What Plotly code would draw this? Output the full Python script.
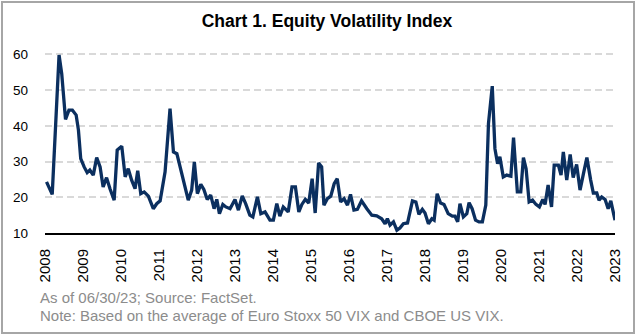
import plotly.graph_objects as go

# Equity volatility index (average of Euro Stoxx 50 VIX and CBOE US VIX)
years = [
    2008.04, 2008.19, 2008.37, 2008.44, 2008.54, 2008.63, 2008.72, 2008.82, 2008.88, 2008.94,
    2009.03, 2009.11, 2009.18, 2009.27, 2009.36, 2009.45, 2009.53, 2009.62, 2009.71, 2009.82,
    2009.90, 2010.02, 2010.11, 2010.19, 2010.28, 2010.37, 2010.44, 2010.52, 2010.61, 2010.72,
    2010.85, 2010.94, 2011.03, 2011.16, 2011.29, 2011.38, 2011.47, 2011.60, 2011.68, 2011.77,
    2011.86, 2011.93, 2012.01, 2012.10, 2012.18, 2012.27, 2012.36, 2012.45, 2012.52, 2012.59,
    2012.68, 2012.76, 2012.87, 2013.00, 2013.09, 2013.19, 2013.28, 2013.39, 2013.47, 2013.59,
    2013.68, 2013.79, 2013.92, 2014.01, 2014.10, 2014.18, 2014.27, 2014.40, 2014.50, 2014.59,
    2014.68, 2014.76, 2014.85, 2014.94, 2015.03, 2015.11, 2015.20, 2015.28, 2015.34, 2015.43,
    2015.52, 2015.61, 2015.69, 2015.78, 2015.87, 2015.96, 2016.04, 2016.13, 2016.22, 2016.33,
    2016.47, 2016.60, 2016.73, 2016.86, 2016.95, 2017.01, 2017.08, 2017.17, 2017.26, 2017.34,
    2017.43, 2017.54, 2017.67, 2017.76, 2017.84, 2017.93, 2018.00, 2018.09, 2018.18, 2018.24,
    2018.32, 2018.41, 2018.50, 2018.61, 2018.72, 2018.79, 2018.86, 2018.92, 2019.01, 2019.10,
    2019.16, 2019.24, 2019.33, 2019.42, 2019.51, 2019.60, 2019.67, 2019.77, 2019.84, 2019.91,
    2019.97, 2020.06, 2020.15, 2020.26, 2020.33, 2020.43, 2020.52, 2020.59, 2020.66, 2020.74,
    2020.83, 2020.92, 2021.01, 2021.10, 2021.16, 2021.24, 2021.33, 2021.40, 2021.51, 2021.58,
    2021.64, 2021.73, 2021.82, 2021.90, 2021.99, 2022.08, 2022.17, 2022.26, 2022.36, 2022.43,
    2022.52, 2022.58, 2022.65, 2022.74, 2022.82, 2022.89, 2023.00,
]
vix = [
    24.3, 20.8, 59.8, 54.6, 41.8, 44.4, 44.4, 43.0, 38.8, 30.8,
    28.5, 26.9, 27.6, 26.2, 31.1, 28.5, 22.9, 25.5, 22.4, 19.2,
    33.2, 34.3, 25.7, 28.0, 24.8, 22.4, 27.4, 21.0, 21.5, 20.3,
    16.8, 18.2, 19.0, 27.1, 44.8, 32.7, 32.2, 26.6, 22.9, 19.2,
    22.0, 29.9, 21.0, 23.6, 22.2, 19.4, 20.6, 16.8, 19.4, 15.4,
    18.0, 17.3, 16.8, 19.4, 16.4, 20.4, 18.2, 15.0, 14.5, 20.1,
    15.4, 15.9, 13.6, 13.6, 18.2, 14.7, 17.3, 15.9, 22.9, 22.9,
    15.9, 18.0, 19.4, 18.4, 25.2, 15.6, 29.6, 28.5, 17.8, 19.6,
    20.3, 23.8, 25.2, 18.7, 19.6, 17.8, 20.8, 16.4, 16.6, 19.0,
    16.8, 15.0, 14.8, 14.0, 12.6, 14.0, 12.2, 13.1, 10.8, 11.4,
    12.6, 12.8, 19.0, 18.7, 15.2, 16.6, 15.6, 12.6, 14.0, 13.6,
    21.0, 18.4, 18.0, 15.4, 14.7, 14.7, 13.1, 18.2, 14.5, 15.4,
    18.5, 16.8, 13.6, 13.1, 13.1, 17.8, 40.6, 51.1, 33.6, 29.4,
    31.3, 25.7, 26.2, 25.9, 36.7, 21.5, 21.5, 31.1, 28.0, 18.7,
    19.2, 18.0, 17.3, 19.4, 18.0, 23.4, 17.3, 29.0, 29.0, 26.2,
    32.7, 24.8, 32.0, 25.5, 29.2, 22.0, 26.6, 31.1, 24.8, 21.2,
    21.2, 19.2, 20.1, 19.4, 16.8, 19.0, 13.6,
]

year_ticks = list(range(2008, 2024))
y_ticks = [10, 20, 30, 40, 50, 60]

title_text = "Chart 1. Equity Volatility Index"
note_lines = [
    "As of 06/30/23; Source: FactSet.",
    "Note: Based on the average of Euro Stoxx 50 VIX and CBOE US VIX.",
]

W, H = 637, 335
L, R, T, B = 45, 22, 49, 102
plot_w = W - L - R
plot_h = H - T - B


def px_to_paper_x(px):
    return (px - L) / plot_w


def px_to_paper_y(py):
    return (H - B - py) / plot_h


fig = go.Figure()
fig.add_trace(go.Scatter(
    x=years, y=vix, mode="lines",
    line=dict(color="#0b2f5f", width=3.3),
    showlegend=False, hoverinfo="skip",
))

fig.update_layout(
    width=W, height=H,
    margin=dict(l=L, r=R, t=T, b=B),
    paper_bgcolor="white", plot_bgcolor="white",
    font=dict(family="Liberation Sans, Arial, sans-serif", color="#000000"),
    title=dict(
        text=f"<b>{title_text}</b>",
        font=dict(size=17.5, color="#000000"),
        x=327 / W, xref="container", xanchor="center",
        y=1 - 21 / H, yref="container", yanchor="middle",
    ),
    xaxis=dict(
        range=[2008, 2023], tickmode="array",
        tickvals=year_ticks, ticktext=[str(y) for y in year_ticks],
        tickangle=-90, tickfont=dict(size=15, color="#000000"),
        showgrid=False, zeroline=False,
        showline=True, linecolor="#000000", linewidth=2,
        ticks="", ticklabelstandoff=8,
    ),
    yaxis=dict(
        range=[10, 61.5], tickmode="array", tickvals=y_ticks,
        tickfont=dict(size=13.5, color="#000000"),
        showgrid=True, gridcolor="#d9d9d9", gridwidth=1.5, griddash="7px,4px",
        zeroline=False, showline=False, ticks="", ticklabelstandoff=16,
    ),
)

# Notes under the chart
for i, line in enumerate(note_lines):
    fig.add_annotation(
        text=line, xref="paper", yref="paper",
        x=px_to_paper_x(38), y=px_to_paper_y(297 + 18 * i),
        xanchor="left", yanchor="middle", showarrow=False,
        font=dict(size=15, color="#8c8c8c"),
    )

# Grey frame around the whole graphic
fig.add_shape(
    type="rect", xref="paper", yref="paper",
    x0=px_to_paper_x(2), x1=px_to_paper_x(634),
    y0=px_to_paper_y(333), y1=px_to_paper_y(2),
    line=dict(color="#a6a6a6", width=2), fillcolor="rgba(0,0,0,0)",
    layer="above",
)

fig.write_html("out.html")
